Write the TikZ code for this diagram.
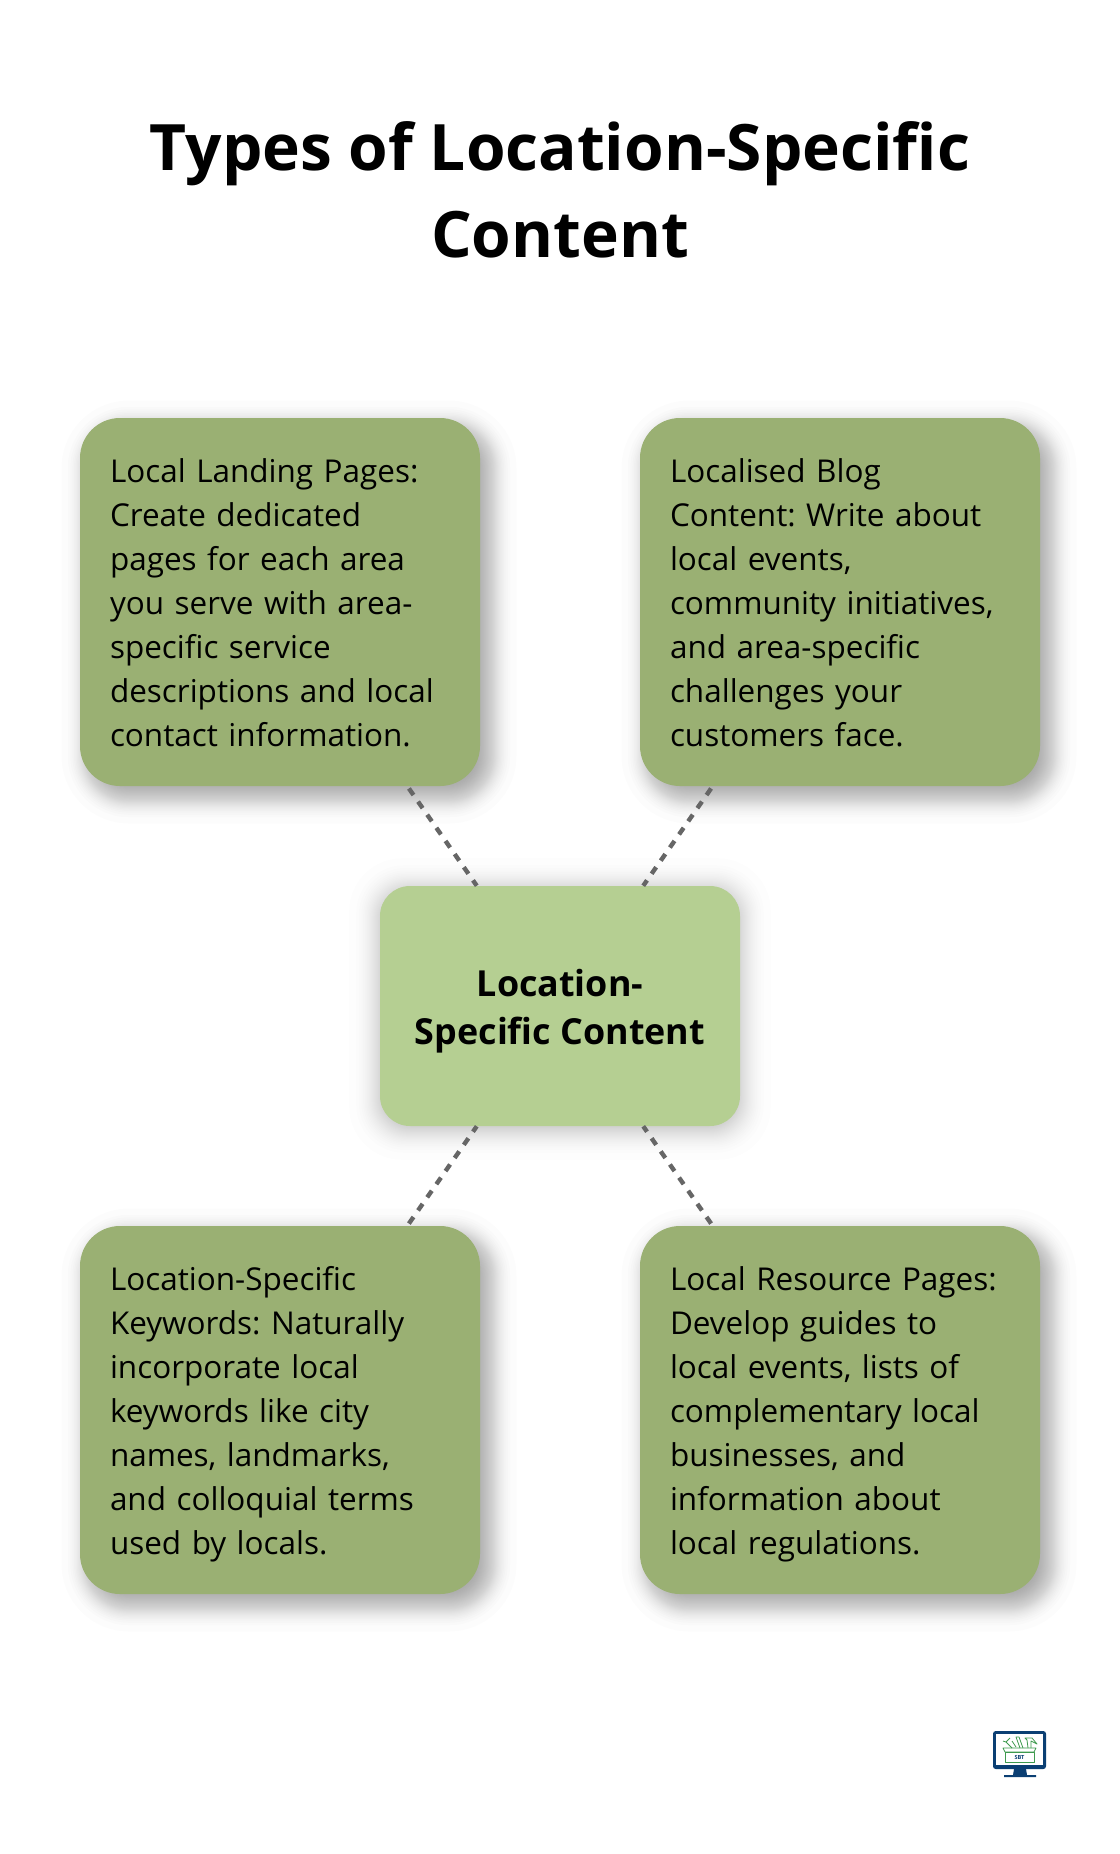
\documentclass[tikz,border=0pt]{standalone}
\usepackage{fontspec}
\setmainfont{Open Sans}
\usepackage{tikz}
\usetikzlibrary{positioning}
\frenchspacing
\definecolor{outergreen}{HTML}{9AB073}
\definecolor{innergreen}{HTML}{B5CF92}
\definecolor{linegray}{HTML}{666666}
\definecolor{logoblue}{HTML}{0B3F73}
\definecolor{logogreen}{HTML}{3E9A4E}
\def\shadowsteps{-22,-17,-15,-13.3,-12,-10.8,-9.8,-8.8,-7.9,-7.1,-6.3,-5.6,-4.9,-4.2,-3.5,-2.8,-2.2,-1.6,-0.9,-0.3,0.3,0.9,1.6,2.2,2.8,3.5,4.2,4.9,5.6,6.3,7.1,7.9,8.8,9.8,10.8,12,13.3,15,17,22}
\tikzstyle{titlebox}=[font=\fontsize{48}{65}\selectfont\bfseries,align=center,text=black]
\tikzstyle{topicbox}=[rectangle,rounded corners=30pt,fill=outergreen,minimum width=300pt,minimum height=276pt,inner xsep=22.5pt,inner ysep=0pt,text width=255pt,align=left,font=\fontsize{23.6}{33}\selectfont,text=black,execute at begin node={\leavevmode\rule{0pt}{25pt}},execute at end node={\rule[-7pt]{0pt}{7pt}}]
\tikzstyle{hubbox}=[rectangle,rounded corners=22.5pt,fill=innergreen,minimum width=270pt,minimum height=180pt,inner sep=0pt,align=center,font=\fontsize{26.9}{36}\selectfont\bfseries,text=black]
\tikzstyle{link}=[draw=linegray,line width=3.3pt,dash pattern=on 6pt off 6pt,shorten <=2pt]
\tikzstyle{logoline}=[draw=logogreen,line width=0.6pt,line join=round]

\begin{document}
\begin{tikzpicture}[x=0.75pt,y=-0.75pt]
    \useasboundingbox (0,0) rectangle (1120,1854);

    % First we draw the soft shadows
    \foreach \cx/\cy in {280/602, 840/602, 280/1410, 840/1410}
        \foreach \r in \shadowsteps
            \fill[black,opacity=0.012,rounded corners=(40+1.25*\r)*0.75pt]
                (\cx-200-1.25*\r+9,\cy-184-1.25*\r+10) rectangle (\cx+200+1.25*\r+9,\cy+184+1.25*\r+10);
    \foreach \r in \shadowsteps
        \fill[black,opacity=0.007,rounded corners=(31+\r)*0.75pt]
            (380-1.4*\r,889-1.4*\r) rectangle (740+1.4*\r,1129+1.4*\r);

    % Title
    \node[titlebox] (title) at (560,189.5) {Types of Location-Specific\\Content};

    % Then the boxes
    \node[hubbox] (hub) at (560,1006) {\rule{0pt}{28pt}Location-\\Specific Content};
    \foreach \pos/\name/\txt in {
        {(280,602)/landing/{Local Landing Pages:\\Create dedicated\\pages for each area\\you serve with area-\\specific service\\descriptions and local\\contact information.}},
        {(840,602)/blog/{Localised Blog\\Content: Write about\\local events,\\community initiatives,\\and area-specific\\challenges your\\customers face.}},
        {(280,1410)/keywords/{Location-Specific\\Keywords: Naturally\\incorporate local\\keywords like city\\names, landmarks,\\and colloquial terms\\used by locals.}},
        {(840,1410)/resource/{Local Resource Pages:\\Develop guides to\\local events, lists of\\complementary local\\businesses, and\\information about\\local regulations.}}}
        \node[topicbox] (\name) at \pos {\txt};

    % Connect the boxes
    \foreach \source/\dest in {landing/hub, blog/hub, keywords/hub, resource/hub}
        \path[link] (\source) -- (\dest);

    % Logo in the corner
    \fill[logoblue,rounded corners=2pt] (993,1731) rectangle (1046,1769);
    \fill[white] (996,1734) rectangle (1043,1765);
    \fill[logoblue] (1014,1769) -- (1026,1769) -- (1027,1775) -- (1036,1775) -- (1036,1777) -- (1004,1777) -- (1004,1775) -- (1013,1775) -- cycle;
    \draw[logoline] (1005,1752) rectangle (1034,1762);
    \draw[logoline] (1003,1748) -- (1036,1748) -- (1034,1752) -- (1005,1752) -- cycle;
    \draw[logoline] (1012,1748) -- (1006,1742) -- (1003,1741) (1006,1742) -- (1010,1738) (1012,1741) -- (1016,1747);
    \draw[logoline] (1020,1748) -- (1016,1737) -- (1019,1737) -- (1023,1748);
    \draw[logoline] (1028,1748) -- (1027,1740) -- (1025,1738) -- (1032,1738) -- (1037,1744) -- (1031,1741) -- (1031,1748);
    \node[font=\fontsize{4.2}{5}\selectfont\bfseries,text=logoblue,inner sep=0pt] (logotext) at (1019.5,1757) {SBT};
\end{tikzpicture}
\end{document}
